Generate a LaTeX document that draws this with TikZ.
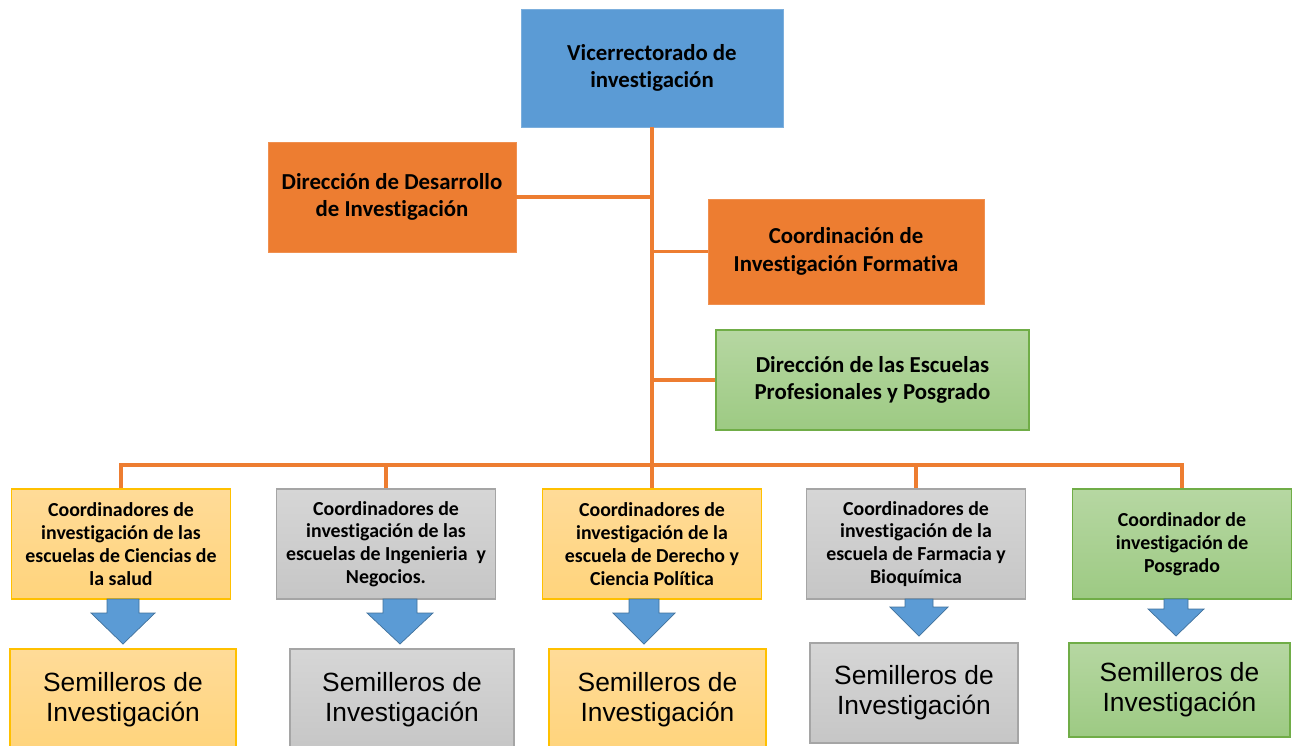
\documentclass[tikz,border=0pt]{standalone}
\usepackage{fontspec}
\setmainfont{Carlito}[Ligatures=NoCommon]
\newfontfamily\arialfont{Liberation Sans}
\usetikzlibrary{calc}
\definecolor{viceblue}{HTML}{5B9BD5}
\definecolor{arrowline}{HTML}{41719C}
\definecolor{orgorange}{HTML}{ED7D31}
\definecolor{yellowtop}{HTML}{FFDB98}
\definecolor{yellowbot}{HTML}{FFD47C}
\definecolor{yellowline}{HTML}{FFC000}
\definecolor{greytop}{HTML}{D6D6D6}
\definecolor{greybot}{HTML}{C6C6C6}
\definecolor{greyline}{HTML}{A5A5A5}
\definecolor{greentop}{HTML}{B6D7A2}
\definecolor{greenbot}{HTML}{9DCA83}
\definecolor{greenline}{HTML}{70AD47}
\def\blockarrow(#1,#2)(#3:#4:#5:#6){\draw[arrowshape] (#1-#3,#2) -- (#1+#3,#2) -- (#1+#3,#5) -- (#1+#4,#5) -- (#1,#6) -- (#1-#4,#5) -- (#1-#3,#5) -- cycle;}

\begin{document}
\begin{tikzpicture}[x=0.02cm, y=-0.02cm,
	orgline/.style={line width=1.8pt, color=orgorange},
	arrowshape/.style={fill=viceblue, draw=arrowline, line width=0.4pt, line join=miter},
	topbox/.style={inner sep=0pt, align=center, font=\bfseries\fontsize{13}{15.5}\selectfont},
	smallbox/.style={inner sep=0pt, align=center, minimum width=4.38cm, minimum height=2.2cm, font=\bfseries\fontsize{11.3}{13}\selectfont},
	seedbox/.style={inner sep=0pt, align=center, font=\arialfont\fontsize{15}{17}\selectfont},
	yellowfill/.style={top color=yellowtop, bottom color=yellowbot, draw=yellowline, line width=0.8pt},
	greyfill/.style={top color=greytop, bottom color=greybot, draw=greyline, line width=0.8pt},
	greenfill/.style={top color=greentop, bottom color=greenbot, draw=greenline, line width=0.8pt}]
	%%%%% START %%%%%
	
	\useasboundingbox (0, 0) rectangle (1299, 745);
	
	\node[topbox, fill=viceblue, draw=viceblue!80!white, minimum width=5.24cm, minimum height=2.36cm] (vice) at (652, 68) {Vicerrectorado de\\investigación};
	\node[topbox, fill=orgorange, draw=orgorange!85!white, minimum width=4.96cm, minimum height=2.2cm] (ddi) at (392, 197) {Dirección de Desarrollo\\de Investigación};
	\node[topbox, fill=orgorange, draw=orgorange!85!white, minimum width=5.52cm, minimum height=2.1cm] (cif) at (846, 251.5) {Coordinación de\\Investigación Formativa};
	\node[topbox, greenfill, minimum width=6.26cm, minimum height=2cm] (depp) at (872.5, 380) {Dirección de las Escuelas\\Profesionales y Posgrado};
	
	\node[smallbox, yellowfill] (csal) at (121, 544) {Coordinadores de\\investigación de las\\escuelas de Ciencias de\\la salud};
	\node[smallbox, greyfill] (cing) at (386, 544) {Coordinadores de\\investigación de las\\escuelas de Ingenieria\ \ y\\Negocios.};
	\node[smallbox, yellowfill] (cder) at (652, 544) {Coordinadores de\\investigación de la\\escuela de Derecho y\\Ciencia Política};
	\node[smallbox, greyfill] (cfar) at (916, 544) {Coordinadores de\\investigación de la\\escuela de Farmacia y\\Bioquímica};
	\node[smallbox, greenfill] (cpos) at (1182, 544) {Coordinador de\\investigación de\\Posgrado};
	
	\node[seedbox, yellowfill, minimum width=4.52cm, minimum height=2.02cm] (ssal) at (123, 699.5) {Semilleros de\\Investigación};
	\node[seedbox, greyfill, minimum width=4.48cm, minimum height=2.02cm] (sing) at (402, 699.5) {Semilleros de\\Investigación};
	\node[seedbox, yellowfill, minimum width=4.34cm, minimum height=2.02cm] (sder) at (657.5, 699.5) {Semilleros de\\Investigación};
	\node[seedbox, greyfill, minimum width=4.16cm, minimum height=2cm] (sfar) at (914, 693) {Semilleros de\\Investigación};
	\node[seedbox, greenfill, minimum width=4.42cm, minimum height=1.88cm] (spos) at (1179.5, 690) {Semilleros de\\Investigación};
	
	\coordinate (bar) at (652, 465);
	\draw[orgline] (vice.south) -- (bar);
	\draw[orgline] (ddi.east) -- (ddi.east -| vice.south);
	\draw[orgline] (cif.west) -- (cif.west -| vice.south);
	\draw[orgline] (depp.west) -- (depp.west -| vice.south);
	\draw[orgline] (csal.north) -- (csal.north |- bar) -- (cpos.north |- bar) -- (cpos.north);
	\draw[orgline] (cing.north) -- (cing.north |- bar);
	\draw[orgline] (cder.north) -- (bar);
	\draw[orgline] (cfar.north) -- (cfar.north |- bar);
	
	\blockarrow(123,599)(16:32:613:644)
	\blockarrow(400,599)(17:33:613:644)
	\blockarrow(644,599)(15:31:613:644)
	\blockarrow(919,599)(14:29:607:636)
	\blockarrow(1176,599)(12:28:609:636)
	
	%%%%% END %%%%%
\end{tikzpicture}
\end{document}
